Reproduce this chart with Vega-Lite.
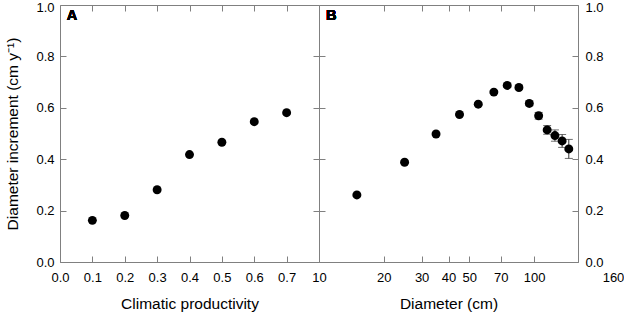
{
  "$schema": "https://vega.github.io/schema/vega-lite/v6.json",
  "padding": {"left": 5, "top": 0, "right": 0, "bottom": 0},
  "config": {
    "font": "Liberation Sans",
    "view": {"stroke": "#808080", "strokeWidth": 1},
    "axis": {
      "domain": false,
      "grid": false,
      "tickColor": "#808080",
      "tickSize": -6,
      "labelFlush": false,
      "labelFont": "Liberation Sans",
      "labelFontSize": 13,
      "labelColor": "#000000",
      "titleFont": "Liberation Sans",
      "titleFontSize": 15.5,
      "titleFontWeight": "normal",
      "titleColor": "#000000"
    }
  },
  "datasets": {
    "a": [
      {"prod": 0.1, "inc": 0.162},
      {"prod": 0.2, "inc": 0.181},
      {"prod": 0.3, "inc": 0.281},
      {"prod": 0.4, "inc": 0.418},
      {"prod": 0.5, "inc": 0.466},
      {"prod": 0.6, "inc": 0.546},
      {"prod": 0.7, "inc": 0.581}
    ],
    "b": [
      {"dia": 15, "inc": 0.261, "err": 0.004},
      {"dia": 25, "inc": 0.388, "err": 0.004},
      {"dia": 35, "inc": 0.498, "err": 0.004},
      {"dia": 45, "inc": 0.574, "err": 0.004},
      {"dia": 55, "inc": 0.614, "err": 0.005},
      {"dia": 65, "inc": 0.661, "err": 0.005},
      {"dia": 75, "inc": 0.687, "err": 0.006},
      {"dia": 85, "inc": 0.679, "err": 0.007},
      {"dia": 95, "inc": 0.617, "err": 0.009},
      {"dia": 105, "inc": 0.569, "err": 0.013},
      {"dia": 115, "inc": 0.514, "err": 0.017},
      {"dia": 125, "inc": 0.492, "err": 0.022},
      {"dia": 135, "inc": 0.471, "err": 0.025},
      {"dia": 145, "inc": 0.440, "err": 0.037}
    ]
  },
  "spacing": 0,
  "bounds": "flush",
  "hconcat": [
    {
      "width": 259,
      "height": 257,
      "data": {"name": "a"},
      "layer": [
        {
          "mark": {"type": "point", "opacity": 0},
          "encoding": {
            "x": {"field": "prod", "type": "quantitative", "scale": {"domain": [0, 0.8], "nice": false},
              "axis": {"orient": "top", "labels": false, "title": null, "values": [0.1, 0.2, 0.3, 0.4, 0.5, 0.6, 0.7]}},
            "y": {"field": "inc", "type": "quantitative", "scale": {"domain": [0, 1], "nice": false},
              "axis": {"orient": "right", "labels": false, "title": null, "values": [0.2, 0.4, 0.6, 0.8]}}
          }
        },
        {
          "mark": {"type": "text", "text": "A", "align": "left", "baseline": "alphabetic", "fontSize": 14.5, "fontWeight": "bold", "color": "#000000"},
          "encoding": {
            "x": {"datum": 0.021, "type": "quantitative", "axis": null},
            "y": {"datum": 0.94, "type": "quantitative", "axis": null}
          }
        },
        {
          "mark": {"type": "point", "filled": true, "size": 80, "color": "#000000", "opacity": 1},
          "encoding": {
            "x": {"field": "prod", "type": "quantitative", "scale": {"domain": [0, 0.8], "nice": false},
              "axis": {"orient": "bottom", "values": [0, 0.1, 0.2, 0.3, 0.4, 0.5, 0.6, 0.7], "format": ".1f", "title": "Climatic productivity", "labelPadding": 15, "titlePadding": 12}},
            "y": {"field": "inc", "type": "quantitative", "scale": {"domain": [0, 1], "nice": false},
              "axis": {"orient": "left", "values": [0, 0.2, 0.4, 0.6, 0.8, 1.0], "format": ".1f", "title": "Diameter increment (cm y⁻¹)", "labelPadding": 12, "titlePadding": 15,
                "labelOffset": {"condition": {"test": "datum.value === 1", "value": 2}, "value": 0}}}
          }
        }
      ],
      "resolve": {"axis": {"x": "independent", "y": "independent"}}
    },
    {
      "width": 259,
      "height": 257,
      "data": {"name": "b"},
      "layer": [
        {
          "mark": {"type": "point", "opacity": 0},
          "encoding": {
            "x": {"field": "dia", "type": "quantitative", "scale": {"type": "log", "domain": [10, 160], "nice": false},
              "axis": {"orient": "top", "labels": false, "title": null, "values": [20, 30, 40, 50, 70, 100]}},
            "y": {"field": "inc", "type": "quantitative", "scale": {"domain": [0, 1], "nice": false},
              "axis": {"orient": "left", "labels": false, "title": null, "values": [0.2, 0.4, 0.6, 0.8]}}
          }
        },
        {
          "mark": {"type": "text", "text": "B", "align": "left", "baseline": "alphabetic", "fontSize": 14.5, "fontWeight": "bold", "color": "#000000"},
          "encoding": {
            "x": {"datum": 10.78, "type": "quantitative", "axis": null},
            "y": {"datum": 0.94, "type": "quantitative", "axis": null}
          }
        },
        {
          "mark": {"type": "errorbar", "ticks": {"size": 8, "color": "#333333"}, "color": "#333333"},
          "encoding": {
            "x": {"field": "dia", "type": "quantitative", "scale": {"type": "log", "domain": [10, 160], "nice": false}, "axis": null},
            "y": {"field": "inc", "type": "quantitative", "scale": {"domain": [0, 1], "nice": false}, "axis": null},
            "yError": {"field": "err"}
          }
        },
        {
          "mark": {"type": "point", "filled": true, "size": 80, "color": "#000000", "opacity": 1},
          "encoding": {
            "x": {"field": "dia", "type": "quantitative", "scale": {"type": "log", "domain": [10, 160], "nice": false},
              "axis": {"orient": "bottom", "values": [10, 20, 30, 40, 50, 70, 100, 160], "format": "d", "title": "Diameter (cm)", "labelPadding": 15, "titlePadding": 12,
                "labelOffset": {"condition": {"test": "datum.value === 160", "value": 35}, "value": 0}}},
            "y": {"field": "inc", "type": "quantitative", "scale": {"domain": [0, 1], "nice": false},
              "axis": {"orient": "right", "values": [0, 0.2, 0.4, 0.6, 0.8, 1.0], "format": ".1f", "title": null, "labelPadding": 13,
                "labelOffset": {"condition": {"test": "datum.value === 1", "value": 2}, "value": 0}}}
          }
        }
      ],
      "resolve": {"axis": {"x": "independent", "y": "independent"}}
    }
  ]
}
